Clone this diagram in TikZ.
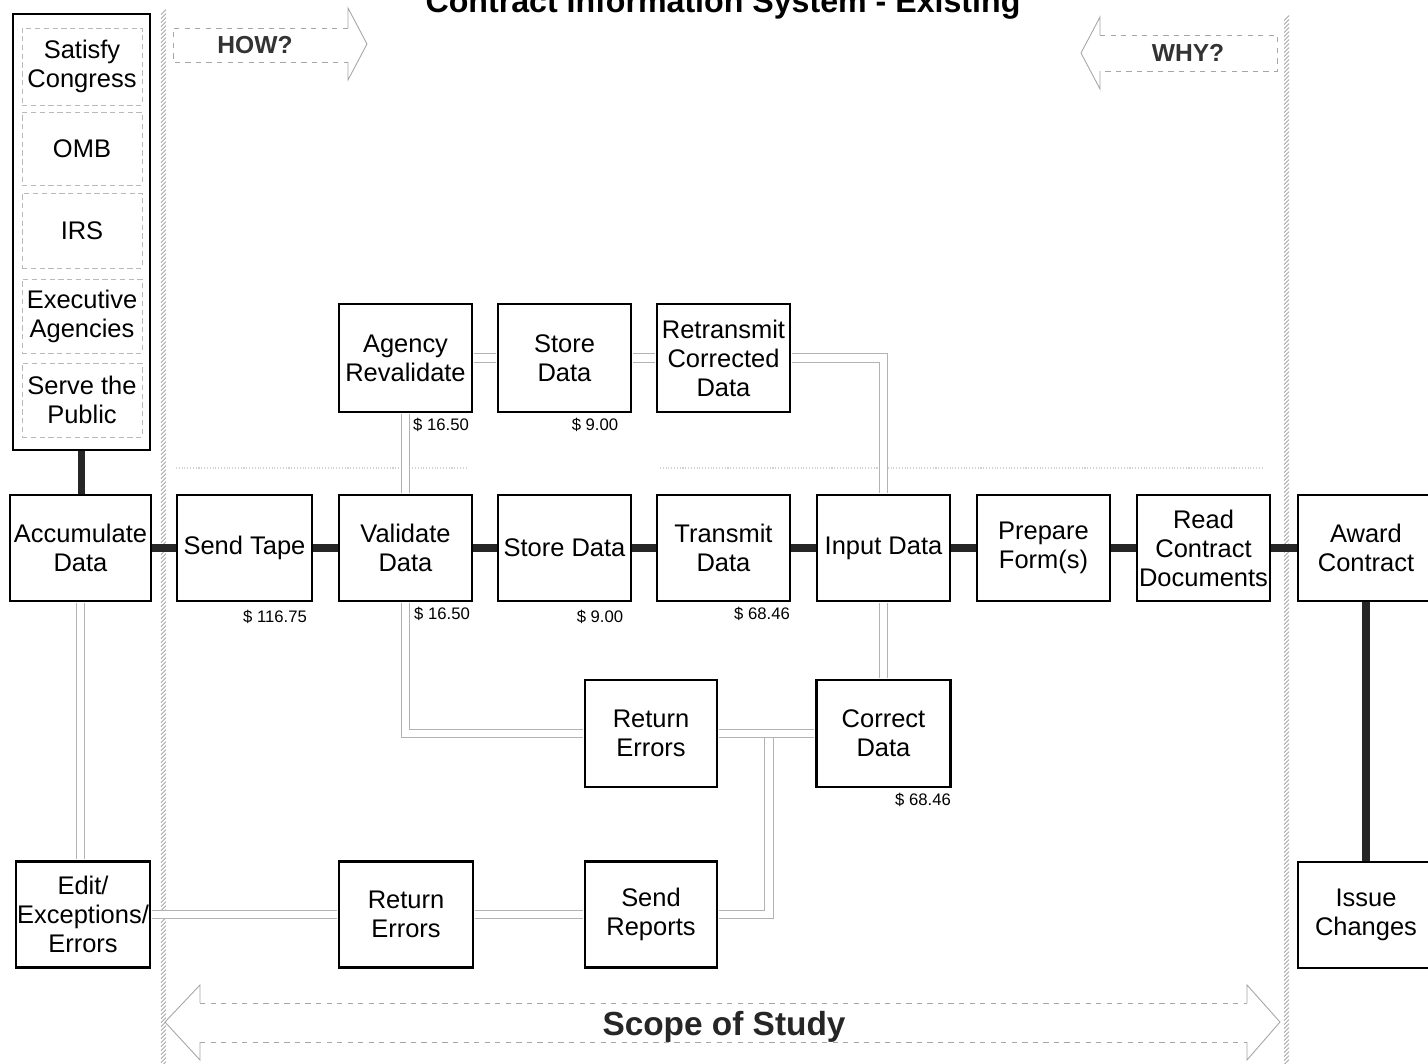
\documentclass[tikz,border=0pt]{standalone}
\usepackage{fontspec}
\setmainfont{Liberation Sans}
\begin{document}
\begin{tikzpicture}[x=0.02cm, y=-0.02cm,
    box/.style={draw, line width=1.3pt, minimum width=2.66cm, minimum height=2.12cm,
      inner sep=0pt, align=center, font=\fontsize{14.5}{16.5}\selectfont},
    goal/.style={draw=gray!55, densely dashed, line width=0.5pt, minimum width=2.4cm,
      minimum height=1.48cm, inner sep=0pt, align=center, font=\fontsize{14.5}{16.5}\selectfont},
    cost/.style={inner sep=0pt, font=\fontsize{9.5}{11}\selectfont},
    main/.style={line width=4pt, black!85},
    flow/.style={draw=gray!60, line width=0.5pt, double=white, double distance=4.3pt,
      shorten <=0.7pt, shorten >=0.7pt},
    hatch/.style={gray!80, line width=0.4pt},
    faint/.style={gray!35, densely dotted, line width=0.6pt},
    rim/.style={gray!70, line width=0.5pt},
    rimdash/.style={rim, dashed},
    tag/.style={inner sep=0pt, font=\fontsize{14}{16}\bfseries\selectfont, text=black!80}]

  \fill[white] (0,0) rectangle (1428,1063);
  \useasboundingbox (0,0) rectangle (1428,1063);

  \draw (723,12) node[anchor=base, inner sep=0pt, font=\fontsize{18.3}{20}\bfseries\selectfont] (title)
    {Contract Information System - Existing};

  \foreach \y in {12,16,...,1064}
    \draw[hatch] (161,\y+2.5) -- (166,\y-2.5);
  \foreach \y in {18,22,...,1064}
    \draw[hatch] (1284,\y+2.5) -- (1289,\y-2.5);

  \draw[faint] (176,468) -- (466,468);
  \draw[faint] (660,468) -- (1263,468);

  \draw[rimdash] (348,28) -- (173,28) -- (173,62) -- (348,62);
  \draw[rim] (348,28) -- (348,8) -- (367,44) -- (348,80) -- (348,62);
  \draw (255,45) node[tag] (how) {HOW?};

  \draw[rimdash] (1100,35) -- (1277,35) -- (1277,71) -- (1100,71);
  \draw[rim] (1100,35) -- (1100,17) -- (1081,53) -- (1100,89) -- (1100,71);
  \draw (1188,53) node[tag] (why) {WHY?};

  \draw[rimdash] (200,1003) -- (1247,1003);
  \draw[rimdash] (200,1042) -- (1247,1042);
  \draw[rim] (200,1003) -- (200,985) -- (165,1022) -- (200,1060) -- (200,1042);
  \draw[rim] (1247,1003) -- (1247,985) -- (1280,1022) -- (1247,1060) -- (1247,1042);
  \draw (724,1027) node[inner sep=0pt, font=\fontsize{19}{21}\bfseries\selectfont, text=black!85] (scope)
    {Scope of Study};

  \draw (81.5,232) node[draw, line width=1.3pt, minimum width=2.74cm, minimum height=8.72cm] (goals) {};
  \draw (82,66.5) node[goal, minimum height=1.54cm] (congress) {Satisfy\\Congress};
  \draw (82,148.5) node[goal, minimum height=1.46cm] (omb) {OMB};
  \draw (82,230.5) node[goal, minimum height=1.5cm] (irs) {IRS};
  \draw (82,316) node[goal] (exec) {Executive\\Agencies};
  \draw (82,400) node[goal] (public) {Serve the\\Public};

  \draw (80.5,548) node[box, minimum width=2.82cm] (acc) {Accumulate\\Data};
  \draw (244.5,548) node[box, minimum width=2.7cm] (tape) {Send Tape};
  \draw (405.5,548) node[box] (valid) {Validate\\Data};
  \draw (564.5,548) node[box] (store) {Store Data};
  \draw (723.5,548) node[box] (trans) {Transmit\\Data};
  \draw (883.5,548) node[box] (input) {Input Data};
  \draw (1043.5,548) node[box] (prep) {Prepare\\Form(s)};
  \draw (1203.5,548) node[box] (read) {Read\\Contract\\Documents};
  \draw (1366,548) node[box, minimum width=2.72cm] (award) {Award\\Contract};

  \draw (405.5,358) node[box, minimum height=2.16cm] (agency) {Agency\\Revalidate};
  \draw (564.5,358) node[box, minimum height=2.16cm] (store2) {Store\\Data};
  \draw (723.5,358) node[box, minimum height=2.16cm] (retrans) {Retransmit\\Corrected\\Data};

  \draw (651,733.5) node[box, minimum width=2.64cm, minimum height=2.14cm] (ret1) {Return\\Errors};
  \draw (883.5,733.5) node[box, minimum width=2.68cm, minimum height=2.14cm] (corr) {Correct\\Data};

  \draw (83,914.5) node[box, minimum width=2.68cm] (edit) {Edit/\\Exceptions/\\Errors};
  \draw (406,914.5) node[box, minimum width=2.68cm] (ret2) {Return\\Errors};
  \draw (651,914.5) node[box, minimum width=2.64cm] (send) {Send\\Reports};
  \draw (1366,915) node[box, minimum width=2.72cm] (issue) {Issue\\Changes};

  \draw (441,425) node[cost] (c1) {\$ 16.50};
  \draw (595,425) node[cost] (c2) {\$ 9.00};
  \draw (275,617) node[cost] (c3) {\$ 116.75};
  \draw (442,614) node[cost] (c4) {\$ 16.50};
  \draw (600,617) node[cost] (c5) {\$ 9.00};
  \draw (762,614) node[cost] (c6) {\$ 68.46};
  \draw (923,800) node[cost] (c7) {\$ 68.46};

  \draw[main] (goals.south) -- (goals.south |- acc.north);
  \foreach \a/\b in {acc/tape, tape/valid, valid/store, store/trans, trans/input, input/prep, prep/read, read/award}
    \draw[main] (\a) -- (\b);
  \draw[main] (award) -- (issue);

  \coordinate (tee) at (769,733.5);
  \draw[flow] (agency) -- (store2);
  \draw[flow] (store2) -- (retrans);
  \draw[flow] (retrans.east) -| (input.north);
  \draw[flow] (agency) -- (valid);
  \draw[flow] (valid.south) |- (ret1.west);
  \draw[flow] (input) -- (corr);
  \draw[flow] (send.east) -| (tee);
  \draw[flow] (ret1) -- (corr);
  \draw[flow] (acc.south) -- (acc.south |- edit.north);
  \draw[flow] (edit) -- (ret2);
  \draw[flow] (ret2) -- (send);
\end{tikzpicture}
\end{document}
